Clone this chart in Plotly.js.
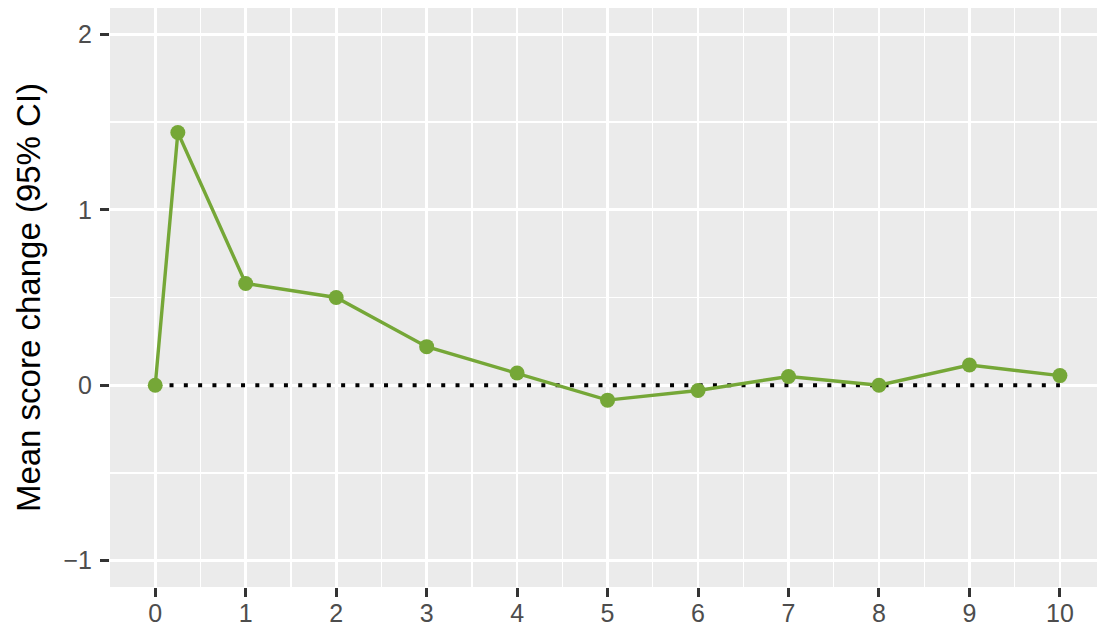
<!DOCTYPE html>
<html>
<head>
<meta charset="utf-8">
<script src="https://cdn.plot.ly/plotly-3.0.1.min.js"></script>
<style>html,body{margin:0;padding:0;background:#fff;}#chart{width:1097px;height:631px;}</style>
</head>
<body>
<div id="chart"></div>
<script>
// Data
var timepoints = [0, 0.25, 1, 2, 3, 4, 5, 6, 7, 8, 9, 10];
var meanChange = [0, 1.44, 0.58, 0.50, 0.22, 0.07, -0.085, -0.03, 0.05, 0.0, 0.115, 0.055];
var refX = [0, 10];
var refY = [0, 0];
var xTickVals = [0, 1, 2, 3, 4, 5, 6, 7, 8, 9, 10];
var xTickText = ["0", "1", "2", "3", "4", "5", "6", "7", "8", "9", "10"];
var yTickVals = [-1, 0, 1, 2];
var yTickText = ["\u22121", "0", "1", "2"];
var yTitle = "Mean score change (95% CI)";

var green = "rgb(117,167,55)";

var traces = [
  {
    x: refX, y: refY, mode: "lines", type: "scatter",
    line: {color: "#000000", width: 4, dash: "4px,10.3px"},
    hoverinfo: "skip", showlegend: false
  },
  {
    x: timepoints, y: meanChange, mode: "lines+markers", type: "scatter",
    line: {color: green, width: 3.4},
    marker: {color: green, size: 15},
    showlegend: false
  }
];

var layout = {
  width: 1097, height: 631,
  paper_bgcolor: "#ffffff",
  plot_bgcolor: "#EBEBEB",
  margin: {l: 110, r: 0, t: 8, b: 44},
  font: {family: "Liberation Sans, Arial, sans-serif", color: "#4D4D4D", size: 25},
  showlegend: false,
  xaxis: {
    range: [-0.5, 10.41],
    tickmode: "array", tickvals: xTickVals, ticktext: xTickText,
    showgrid: true, gridcolor: "#ffffff", gridwidth: 2.8,
    zeroline: false, showline: false,
    ticks: "outside", ticklen: 9, tickwidth: 3, tickcolor: "#333333",
    ticklabelstandoff: -5,
    tickfont: {size: 25, color: "#4D4D4D"},
    minor: {dtick: 0.5, tick0: 0.5, showgrid: true, gridcolor: "#ffffff", gridwidth: 1.4, ticks: ""}
  },
  yaxis: {
    range: [-1.15, 2.15],
    tickmode: "array", tickvals: yTickVals, ticktext: yTickText,
    showgrid: true, gridcolor: "#ffffff", gridwidth: 2.8,
    zeroline: false, showline: false,
    ticks: "outside", ticklen: 9, tickwidth: 3, tickcolor: "#333333",
    ticklabelstandoff: 3,
    tickfont: {size: 25, color: "#4D4D4D"},
    minor: {dtick: 0.5, tick0: 0.5, showgrid: true, gridcolor: "#ffffff", gridwidth: 1.4, ticks: ""},
    title: {text: yTitle, font: {size: 33, color: "#000000"}, standoff: 12}
  }
};

Plotly.newPlot("chart", traces, layout, {displayModeBar: false, staticPlot: true});
</script>
</body>
</html>
